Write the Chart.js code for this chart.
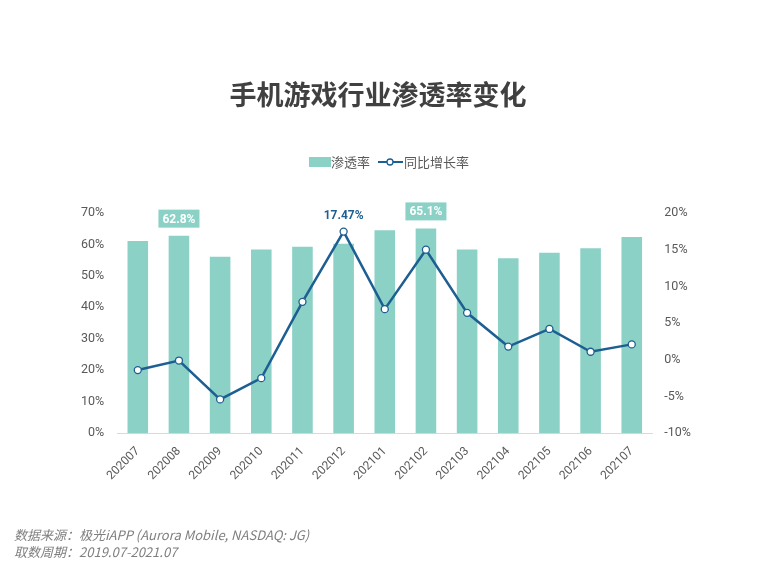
<!DOCTYPE html>
<html>
<head>
<meta charset="utf-8">
<script src="https://cdn.jsdelivr.net/npm/chart.js@4"></script>
<style>
  html, body { margin: 0; padding: 0; background: #fff; }
  #wrap { position: relative; width: 760px; height: 570px; }
</style>
</head>
<body>
<div id="wrap"><canvas id="chart" width="760" height="570"></canvas></div>
<script>
// ----- data -----
const months = ["202007", "202008", "202009", "202010", "202011", "202012", "202101",
  "202102", "202103", "202104", "202105", "202106", "202107"];
const penetration = [61.1, 62.8, 56.1, 58.4, 59.3, 60.2, 64.5, 65.1, 58.4, 55.6, 57.4, 58.8, 62.4];
const yoyGrowth = [-1.4, -0.1, -5.4, -2.5, 7.9, 17.47, 6.9, 15.0, 6.4, 1.8, 4.2, 1.1, 2.1];
const leftTicks = [0, 10, 20, 30, 40, 50, 60, 70];
const rightTicks = [-10, -5, 0, 5, 10, 15, 20];
// which points get a callout label
const barCallouts = { 1: "62.8%", 7: "65.1%" };
const lineCallouts = { 5: "17.47%" };

const TEAL = "#8bd1c6";
const BLUE = "#1d5f92";
const GREY = "#595959";
const FONT = "Roboto, 'Noto Sans CJK SC', sans-serif";

// title, legend, footer and callouts
const decor = {
  id: "decor",
  afterDraw(chart) {
    const ctx = chart.ctx;
    ctx.save();
    // title
    ctx.fillStyle = "#404040";
    ctx.font = "bold 27px 'Noto Sans CJK SC', sans-serif";
    ctx.textAlign = "center";
    ctx.textBaseline = "middle";
    ctx.fillText("手机游戏行业渗透率变化", 378, 95);

    // legend
    ctx.font = "13px 'Noto Sans CJK SC', sans-serif";
    ctx.textAlign = "left";
    ctx.fillStyle = TEAL;
    ctx.fillRect(309, 157, 22, 10);
    ctx.fillStyle = GREY;
    ctx.fillText("渗透率", 331, 162);
    ctx.strokeStyle = BLUE;
    ctx.lineWidth = 2;
    ctx.beginPath();
    ctx.moveTo(378, 162);
    ctx.lineTo(403, 162);
    ctx.stroke();
    ctx.beginPath();
    ctx.arc(390, 162, 3, 0, Math.PI * 2);
    ctx.fillStyle = "#fff";
    ctx.fill();
    ctx.lineWidth = 1.3;
    ctx.stroke();
    ctx.fillStyle = GREY;
    ctx.fillText("同比增长率", 404, 162);

    // callouts
    const barMeta = chart.getDatasetMeta(1);
    ctx.font = "bold 12px " + FONT;
    ctx.textAlign = "center";
    Object.keys(barCallouts).forEach(i => {
      const el = barMeta.data[i];
      const txt = barCallouts[i];
      const w = ctx.measureText(txt).width + 8;
      const cy = el.y - 17;
      ctx.fillStyle = TEAL;
      ctx.fillRect(el.x - w / 2, cy - 9, w, 18);
      ctx.fillStyle = "#fff";
      ctx.fillText(txt, el.x, cy + 1);
    });
    const lineMeta = chart.getDatasetMeta(0);
    Object.keys(lineCallouts).forEach(i => {
      const el = lineMeta.data[i];
      ctx.fillStyle = BLUE;
      ctx.fillText(lineCallouts[i], el.x, el.y - 16);
    });

    // footer
    ctx.fillStyle = "#7f7f7f";
    ctx.textAlign = "left";
    ctx.font = "italic 13px 'Noto Sans CJK SC', 'Open Sans', sans-serif";
    ctx.fillText("数据来源：极光iAPP (Aurora Mobile, NASDAQ: JG)", 14, 535);
    ctx.fillText("取数周期：2019.07-2021.07", 14, 552);
    ctx.restore();
  }
};

new Chart(document.getElementById("chart"), {
  data: {
    labels: months,
    datasets: [
      {
        type: "line",
        label: "同比增长率",
        data: yoyGrowth,
        yAxisID: "yRight",
        borderColor: BLUE,
        borderWidth: 2.5,
        pointRadius: 3.5,
        pointBorderWidth: 1.3,
        pointBackgroundColor: "#fff",
        pointBorderColor: BLUE,
        tension: 0,
        order: 0
      },
      {
        type: "bar",
        label: "渗透率",
        data: penetration,
        yAxisID: "yLeft",
        backgroundColor: TEAL,
        barPercentage: 0.5,
        categoryPercentage: 1,
        order: 1
      }
    ]
  },
  options: {
    responsive: false,
    animation: false,
    layout: { padding: { top: 213, left: 76, right: 65, bottom: 84 } },
    plugins: { legend: { display: false }, tooltip: { enabled: false } },
    scales: {
      x: {
        grid: { display: false },
        border: { color: "#d9d9d9" },
        ticks: {
          color: GREY,
          font: { size: 12, family: FONT },
          maxRotation: 45,
          minRotation: 45
        }
      },
      yLeft: {
        position: "left",
        min: 0,
        max: 70,
        afterBuildTicks: axis => { axis.ticks = leftTicks.map(v => ({ value: v })); },
        grid: { display: false },
        border: { display: false },
        ticks: {
          color: GREY,
          font: { size: 12.5, family: FONT },
          padding: 5,
          callback: v => v + "%"
        }
      },
      yRight: {
        position: "right",
        min: -10,
        max: 20,
        afterBuildTicks: axis => { axis.ticks = rightTicks.map(v => ({ value: v })); },
        grid: { display: false },
        border: { display: false },
        ticks: {
          color: GREY,
          font: { size: 12.5, family: FONT },
          padding: 4,
          callback: v => v + "%"
        }
      }
    }
  },
  plugins: [decor]
});
</script>
</body>
</html>
